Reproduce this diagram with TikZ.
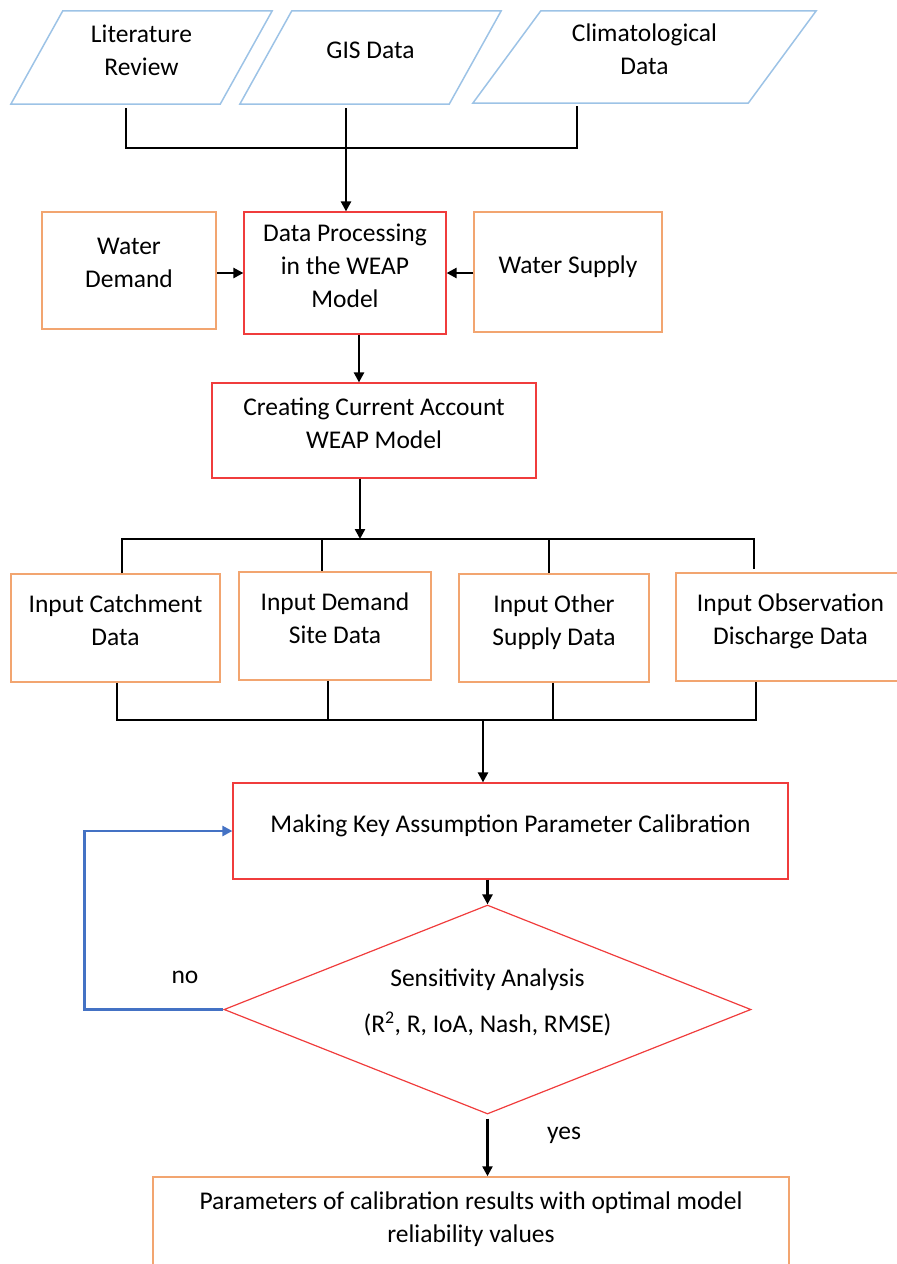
\documentclass[tikz,border=0pt]{standalone}
\usepackage{fontspec}
\setmainfont{Carlito}
\usetikzlibrary{shapes.geometric,arrows.meta}

\definecolor{datablue}{RGB}{157,195,230}
\definecolor{boxorange}{RGB}{242,165,112}
\definecolor{boxred}{RGB}{240,60,60}
\definecolor{loopblue}{RGB}{68,114,196}

\tikzstyle{flowbox}=[shape=rectangle,align=center,inner sep=0pt,text depth=15pt,font=\fontsize{25.5}{33}\selectfont]
\tikzstyle{datanode}=[flowbox]
\tikzstyle{dataframe}=[draw=datablue,line width=1.5pt,line join=miter]
\tikzstyle{inputbox}=[flowbox,draw=boxorange,line width=1.5pt]
\tikzstyle{procbox}=[flowbox,draw=boxred,line width=1.2pt]
\tikzstyle{decision}=[flowbox,text depth=17pt,diamond,aspect=2.5,draw=boxred,line width=1.2pt]
\tikzstyle{answer}=[font=\fontsize{25.5}{33}\selectfont,inner sep=0pt]
\tikzstyle{busline}=[line width=2.4pt,black]
\tikzstyle{mainedge}=[busline,-{Triangle[length=10pt,width=10pt]}]
\tikzstyle{loopedge}=[line width=2.4pt,loopblue,-{Triangle[length=10pt,width=10pt]}]

\begin{document}
\begin{tikzpicture}[x=1pt,y=-1pt]
\useasboundingbox (0,0) rectangle (897,1264);
% data sources
\node[datanode,minimum width=261pt,minimum height=93pt] (lit) at (141.5,57.5) {Literature\\Review};
\node[datanode,minimum width=261pt,minimum height=93pt] (gis) at (370.5,57.5) {GIS Data};
\node[datanode,minimum width=343pt,minimum height=92pt] (clim) at (644.5,57) {Climatological\\Data};
\draw[dataframe] (lit.south west) -- ([xshift=-52pt]lit.south east) -- (lit.north east) -- ([xshift=52pt]lit.north west) -- cycle;
\draw[dataframe] (gis.south west) -- ([xshift=-52pt]gis.south east) -- (gis.north east) -- ([xshift=52pt]gis.north west) -- cycle;
\draw[dataframe] (clim.south west) -- ([xshift=-68pt]clim.south east) -- (clim.north east) -- ([xshift=68pt]clim.north west) -- cycle;
\coordinate (j1) at (126,148);
\coordinate (j2) at (346,148);
\coordinate (j3) at (577,148);

% WEAP processing
\node[inputbox,minimum width=174pt,minimum height=117pt] (wdem) at (129,270.5) {Water\\Demand};
\node[procbox,minimum width=202pt,minimum height=122pt] (dproc) at (345,273) {Data Processing\\in the WEAP\\Model};
\node[inputbox,minimum width=188pt,minimum height=120pt] (wsup) at (568,272) {Water Supply};
\node[procbox,minimum width=324pt,minimum height=95pt] (cca) at (374,430.5) {Creating Current Account\\WEAP Model};

\draw[busline] ([yshift=-4pt]lit.south -| j1) -- (j1) -- (j3) -- ([yshift=-3pt]clim.south -| j3);
\draw[mainedge] ([yshift=-4pt]gis.south -| j2) -- (dproc.north -| j2);
\draw[mainedge] (wdem.east |- dproc.west) -- (dproc.west);
\draw[mainedge] (wsup.west |- dproc.east) -- (dproc.east);
\draw[mainedge] ([xshift=14pt]dproc.south) -- ([xshift=14pt]dproc.south |- cca.north);

% input data
\node[inputbox,minimum width=209pt,minimum height=108pt] (catch) at (115.5,628) {Input Catchment\\Data};
\node[inputbox,minimum width=192pt,minimum height=108pt] (demsite) at (335,626) {Input Demand\\Site Data};
\node[inputbox,minimum width=190pt,minimum height=108pt] (othsup) at (554,628) {Input Other\\Supply Data};
\node[inputbox,minimum width=229pt,minimum height=108pt] (obs) at (790.5,627) {Input Observation\\Discharge Data};
\coordinate (t0) at (360,539);
\coordinate (t1) at (122,539);
\coordinate (t2) at (322,539);
\coordinate (t3) at (549,539);
\coordinate (t4) at (754,539);
\coordinate (u0) at (483,720);
\coordinate (u1) at (117,720);
\coordinate (u2) at (328,720);
\coordinate (u3) at (553,720);
\coordinate (u4) at (756,720);

\draw[mainedge] ([xshift=-14pt]cca.south) -- (t0);
\draw[busline] (catch.north -| t1) -- (t1) -- (t4) -- ([yshift=3pt]obs.north -| t4);
\draw[busline] (t2) -- (demsite.north -| t2);
\draw[busline] (t3) -- (othsup.north -| t3);
\draw[busline] (catch.south -| u1) -- (u1) -- (u4) -- (obs.south -| u4);
\draw[busline] (demsite.south -| u2) -- (u2);
\draw[busline] (othsup.south -| u3) -- (u3);

% calibration
\node[procbox,minimum width=555pt,minimum height=96pt] (mkey) at (510.5,831) {Making Key Assumption Parameter Calibration};
\node[decision,minimum width=527pt,minimum height=209pt] (sens) at (487.5,1009.5)
    {Sensitivity Analysis\\[13pt](R\textsuperscript{2}, R, IoA, Nash, RMSE)};
\node[inputbox,minimum width=636pt,minimum height=96pt] (result) at (471,1225)
    {Parameters of calibration results with optimal model\\reliability values};
\node[answer] (no) at (185,977.5) {no};
\node[answer] (yes) at (564,1135) {yes};

\draw[mainedge] (u0) -- (mkey.north -| u0);
\draw[mainedge] (mkey.south -| sens.north) -- (sens.north);
\draw[mainedge] ([yshift=-4pt]sens.south) -- (result.north -| sens.south);
\draw[loopedge] (sens.west) -- ++(-139,0) |- (mkey.west);

\end{tikzpicture}
\end{document}
